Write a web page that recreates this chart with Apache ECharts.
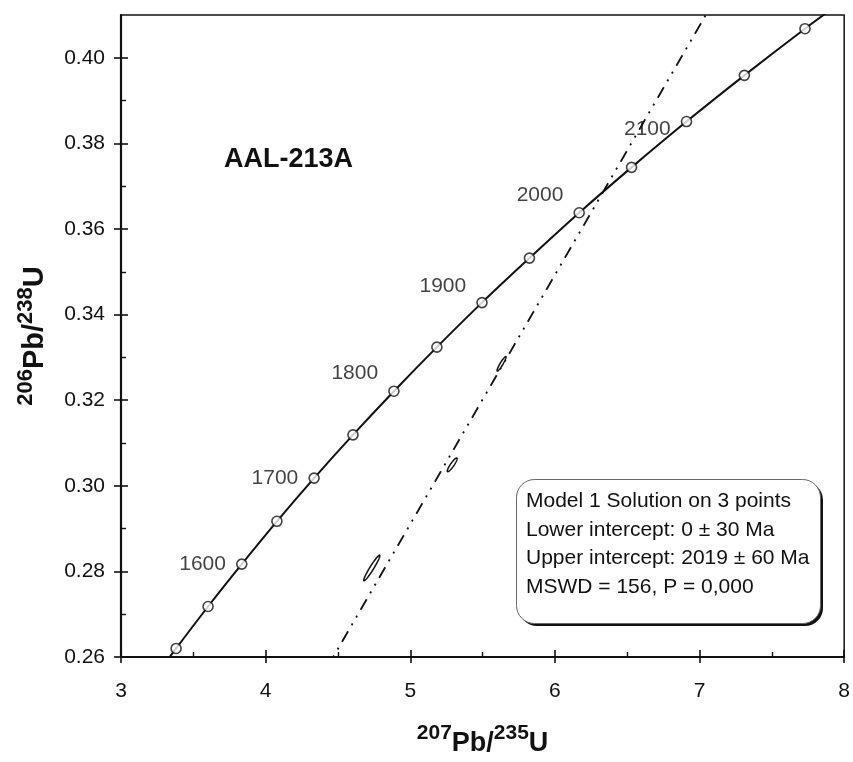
<!DOCTYPE html>
<html>
<head>
<meta charset="utf-8">
<script src="https://cdn.jsdelivr.net/npm/echarts@6/dist/echarts.min.js"></script>
<style>
html,body{margin:0;padding:0;background:#fff;}
#chart{width:853px;height:762px;}
</style>
</head>
<body>
<div id="chart"></div>
<script>
// Concordia curve ages (Ma) and ratios (two extra points extend the curve past the frame)
const concordiaAges = [1480, 1500, 1550, 1600, 1650, 1700, 1750, 1800, 1850, 1900, 1950, 2000, 2050, 2100, 2150, 2200, 2230];
const concordiaX    = [3.296, 3.381, 3.602, 3.835, 4.078, 4.335, 4.604, 4.887, 5.184, 5.496, 5.824, 6.168, 6.530, 6.910, 7.310, 7.729, 7.991];
const concordiaY    = [0.2581, 0.2620, 0.2718, 0.2817, 0.2917, 0.3018, 0.3119, 0.3221, 0.3324, 0.3428, 0.3532, 0.3638, 0.3744, 0.3851, 0.3959, 0.4068, 0.4133];
const labelledAges  = [1600, 1700, 1800, 1900, 2000, 2100];

// Discordia line end points (lower intercept at origin)
const discordiaX = [4.40, 7.10];
const discordiaY = [0.2561, 0.4133];

// Analysis ellipses: centre x, centre y, half-width x, half-width y, correlation
const ellipseCX  = [4.734, 5.290, 5.631];
const ellipseCY  = [0.2808, 0.3049, 0.3285];
const ellipseSX  = [0.056, 0.034, 0.031];
const ellipseSY  = [0.0030, 0.0016, 0.0017];
const ellipseRho = [0.96, 0.90, 0.93];

// Axis ticks
const yMajorTicks = [0.26, 0.28, 0.30, 0.32, 0.34, 0.36, 0.38, 0.40];
const yMinorTicks = [0.27, 0.29, 0.31, 0.33, 0.35, 0.37, 0.39];

const titleText = 'AAL-213A';
const infoLines = ['Model 1 Solution on 3 points', 'Lower intercept: 0 \u00b1 30 Ma', 'Upper intercept: 2019 \u00b1 60 Ma', 'MSWD = 156, P = 0,000'];

// label offsets (style only)
const labelOffsets = {1600: [0, 0], 1700: [0, 0], 1800: [0, -18], 1900: [0, -16], 2000: [0, -18], 2100: [0, 8]};

const FONT = '"Liberation Sans", Arial, Helvetica, sans-serif';
const INK = '#111111';

const curveData = concordiaX.map((x, i) => [x, concordiaY[i]]);
const markerData = [];
concordiaAges.forEach((a, i) => {
  if (concordiaY[i] < 0.26 || concordiaY[i] > 0.41) return;
  const item = { value: [concordiaX[i], concordiaY[i]], age: a };
  if (labelledAges.indexOf(a) >= 0) {
    item.label = { show: true, formatter: String(a), position: 'left', distance: 10, offset: labelOffsets[a] };
  }
  markerData.push(item);
});
const discordiaData = discordiaX.map((x, i) => [x, discordiaY[i]]);
const ellipseData = ellipseCX.map((x, i) => [x, ellipseCY[i], ellipseSX[i], ellipseSY[i], ellipseRho[i]]);

const baseX = { type: 'value', min: 3, max: 8, interval: 1, gridIndex: 0, splitLine: { show: false } };
const baseY = { type: 'value', min: 0.26, max: 0.41, gridIndex: 0, splitLine: { show: false } };

function nameRich(mainSize, supSize) {
  return {
    sup: { fontFamily: FONT, fontSize: supSize, fontWeight: 'bold', color: INK, verticalAlign: 'top', lineHeight: 34 },
    main: { fontFamily: FONT, fontSize: mainSize, fontWeight: 'bold', color: INK, verticalAlign: 'bottom', lineHeight: 34 }
  };
}

const chart = echarts.init(document.getElementById('chart'), null, { renderer: 'canvas' });
chart.setOption({
  backgroundColor: '#ffffff',
  animation: false,
  title: {
    text: titleText, left: 219, top: 141,
    textStyle: { fontFamily: FONT, fontSize: 27, fontWeight: 'bold', color: INK }
  },
  grid: { left: 121, right: 5, top: 15, bottom: 102, show: true, borderColor: INK, borderWidth: 1.5, backgroundColor: 'transparent' },
  xAxis: [
    Object.assign({}, baseX, {
      position: 'bottom',
      axisLine: { show: true, lineStyle: { color: INK, width: 2.2 } },
      axisTick: { show: true, inside: false, length: 6, lineStyle: { color: INK, width: 1.6 } },
      axisLabel: { show: true, margin: 24, fontFamily: FONT, fontSize: 21, color: INK },
      name: '{sup|207}{main|Pb/}{sup|235}{main|U}',
      nameLocation: 'middle', nameGap: 66,
      nameTextStyle: { rich: nameRich(27, 21) }
    }),
    Object.assign({}, baseX, {
      position: 'bottom',
      axisLine: { show: false },
      axisTick: { show: true, inside: true, length: 7, lineStyle: { color: INK, width: 1.6 } },
      minorTick: { show: true, splitNumber: 2, length: 5, lineStyle: { color: INK, width: 1.4 } },
      axisLabel: { show: false }
    })
  ],
  yAxis: [
    Object.assign({}, baseY, {
      position: 'left',
      axisLine: { show: true, lineStyle: { color: INK, width: 2.2 } },
      axisTick: { show: true, inside: false, length: 7, customValues: yMajorTicks, lineStyle: { color: INK, width: 1.6 } },
      axisLabel: { show: true, margin: 16, customValues: yMajorTicks, fontFamily: FONT, fontSize: 21, color: INK,
        formatter: v => v.toFixed(2) },
      name: '{sup|206}{main|Pb/}{sup|238}{main|U}',
      nameLocation: 'middle', nameGap: 72, nameRotate: 90,
      nameTextStyle: { rich: nameRich(29, 22) }
    }),
    Object.assign({}, baseY, {
      position: 'left',
      axisLine: { show: false },
      axisTick: { show: true, inside: true, length: 7, customValues: yMajorTicks, lineStyle: { color: INK, width: 1.6 } },
      axisLabel: { show: false }
    }),
    Object.assign({}, baseY, {
      position: 'left',
      axisLine: { show: false },
      axisTick: { show: true, inside: true, length: 5, customValues: yMinorTicks, lineStyle: { color: INK, width: 1.4 } },
      axisLabel: { show: false }
    })
  ],
  series: [
    {
      name: 'discordia', type: 'line', xAxisIndex: 0, yAxisIndex: 0,
      data: discordiaData, showSymbol: false, symbol: 'none', clip: true,
      lineStyle: { color: INK, width: 1.8, type: [12, 7, 2, 7, 2, 7] },
      z: 2
    },
    {
      name: 'ellipses', type: 'custom', xAxisIndex: 0, yAxisIndex: 0,
      data: ellipseData, clip: true,
      renderItem: function (params, api) {
        const cx = api.value(0), cy = api.value(1), sx = api.value(2), sy = api.value(3), r = api.value(4);
        const pts = [];
        const n = 60;
        const k = Math.sqrt(1 - r * r);
        for (let j = 0; j < n; j++) {
          const t = 2 * Math.PI * j / n;
          const c = Math.cos(t), s = Math.sin(t);
          pts.push(api.coord([cx + sx * c, cy + sy * (r * c + k * s)]));
        }
        return { type: 'polygon', shape: { points: pts }, style: { fill: '#ffffff', stroke: INK, lineWidth: 1.5 } };
      },
      z: 3
    },
    {
      name: 'concordia', type: 'line', xAxisIndex: 0, yAxisIndex: 0,
      data: curveData, showSymbol: false, symbol: 'none', smooth: 0.3, clip: true,
      lineStyle: { color: INK, width: 2 },
      z: 4
    },
    {
      name: 'ages', type: 'scatter', xAxisIndex: 0, yAxisIndex: 0,
      data: markerData, symbol: 'circle', symbolSize: 10,
      itemStyle: { color: '#ffffff', borderColor: INK, borderWidth: 1.6 },
      label: { show: false, fontFamily: FONT, fontSize: 21, color: INK },
      z: 5
    }
  ],
  graphic: [
    { type: 'rect', left: 519, top: 482, z: 100, shape: { width: 304, height: 144, r: 18 }, style: { fill: '#111' } },
    { type: 'rect', left: 516, top: 479, z: 101, shape: { width: 304, height: 144, r: 18 }, style: { fill: '#ffffff', stroke: '#666', lineWidth: 1 } },
    { type: 'text', left: 526, top: 487, z: 102, style: { text: infoLines.join('\n'), font: '21px ' + FONT, fill: INK, lineHeight: 28.6 } }
  ]
});
</script>
</body>
</html>
